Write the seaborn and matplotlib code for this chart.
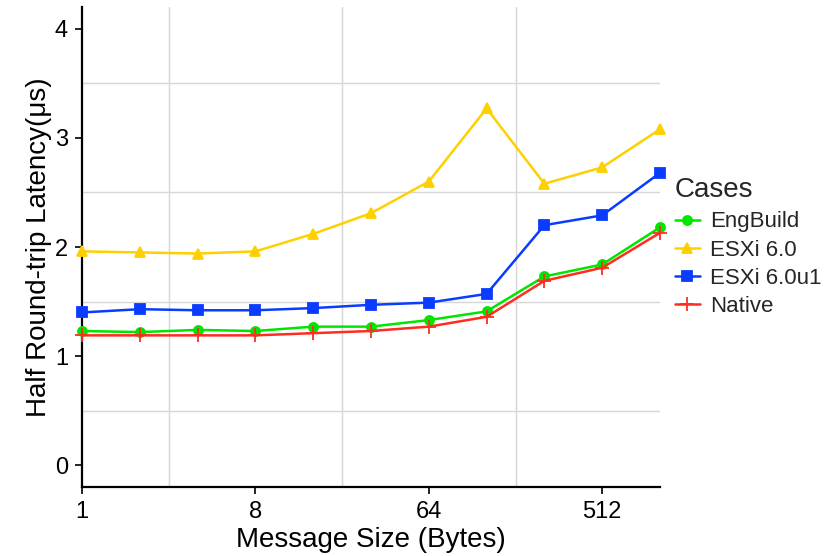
import numpy as np
import pandas as pd
import seaborn as sns
import matplotlib.pyplot as plt
from matplotlib.ticker import FixedLocator, NullFormatter

sizes = [1, 2, 4, 8, 16, 32, 64, 128, 256, 512, 1024]
engbuild = [1.23, 1.22, 1.24, 1.23, 1.27, 1.27, 1.33, 1.41, 1.73, 1.84, 2.18]
esxi60 = [1.96, 1.95, 1.94, 1.96, 2.12, 2.31, 2.60, 3.27, 2.58, 2.73, 3.08]
esxi60u1 = [1.40, 1.43, 1.42, 1.42, 1.44, 1.47, 1.49, 1.57, 2.20, 2.29, 2.68]
native = [1.19, 1.19, 1.19, 1.19, 1.21, 1.23, 1.27, 1.36, 1.69, 1.81, 2.13]
cases = ["EngBuild", "ESXi 6.0", "ESXi 6.0u1", "Native"]
x_ticks = [1, 8, 64, 512]

df = pd.DataFrame({
    "size": sizes * 4,
    "latency": engbuild + esxi60 + esxi60u1 + native,
    "Cases": sum([[c] * len(sizes) for c in cases], []),
})

sns.set_theme(style="white")
plt.rcParams["font.family"] = ["Liberation Sans", "DejaVu Sans"]

palette = {"EngBuild": "#00E600", "ESXi 6.0": "#FFD000",
           "ESXi 6.0u1": "#0A3CFF", "Native": "#FF2D1F"}
markers = {"EngBuild": "o", "ESXi 6.0": "^", "ESXi 6.0u1": "s", "Native": "+"}
msizes = {"EngBuild": 6.5, "ESXi 6.0": 7.5, "ESXi 6.0u1": 6.5, "Native": 10}

fig = plt.figure(figsize=(8.33, 5.56), dpi=100)
ax = fig.add_axes([82 / 833, 1 - 487 / 556, (660 - 82) / 833, (487 - 7) / 556])

for c in cases:
    sub = df[df["Cases"] == c]
    sns.lineplot(data=sub, x="size", y="latency", color=palette[c],
                 marker=markers[c], markersize=msizes[c],
                 markeredgecolor=palette[c], markeredgewidth=1.3,
                 linewidth=1.8, label=c, ax=ax, clip_on=False, zorder=3)

ax.set_xscale("log", base=2)
ax.set_xlim(1, 1024)
ax.set_ylim(-0.2, 4.2)
ax.xaxis.set_major_locator(FixedLocator(x_ticks))
ax.set_xticklabels([str(t) for t in x_ticks])
ax.xaxis.set_minor_locator(FixedLocator([2 ** 1.5, 2 ** 4.5, 2 ** 7.5]))
ax.xaxis.set_minor_formatter(NullFormatter())
ax.set_yticks([0, 1, 2, 3, 4])
ax.yaxis.set_minor_locator(FixedLocator([0.5, 1.5, 2.5, 3.5]))

ax.grid(False, which="major")
ax.grid(True, which="minor", color="#d6d6d6", linewidth=1.0)
ax.set_axisbelow(True)

for s in ["top", "right"]:
    ax.spines[s].set_visible(False)
for s in ["left", "bottom"]:
    ax.spines[s].set_color("black")
    ax.spines[s].set_linewidth(1.6)

ax.tick_params(which="major", direction="out", length=5, width=1.2,
               color="black", labelsize=17, labelcolor="black",
               left=True, bottom=True, pad=5)
ax.tick_params(which="minor", length=0)

ax.set_xlabel("Message Size (Bytes)", fontsize=20, color="black", labelpad=3)
ax.set_ylabel("Half Round-trip Latency(μs)", fontsize=20, color="black",
              labelpad=2)

leg = ax.legend(title="Cases", loc="center left", bbox_to_anchor=(1.01, 0.5),
                frameon=False, fontsize=16, title_fontsize=20,
                handlelength=1.15, handletextpad=0.45, labelspacing=0.32,
                borderaxespad=0.0)
leg._legend_box.align = "left"
leg._legend_box.sep = 6

fig.savefig("out.png", dpi=100)
